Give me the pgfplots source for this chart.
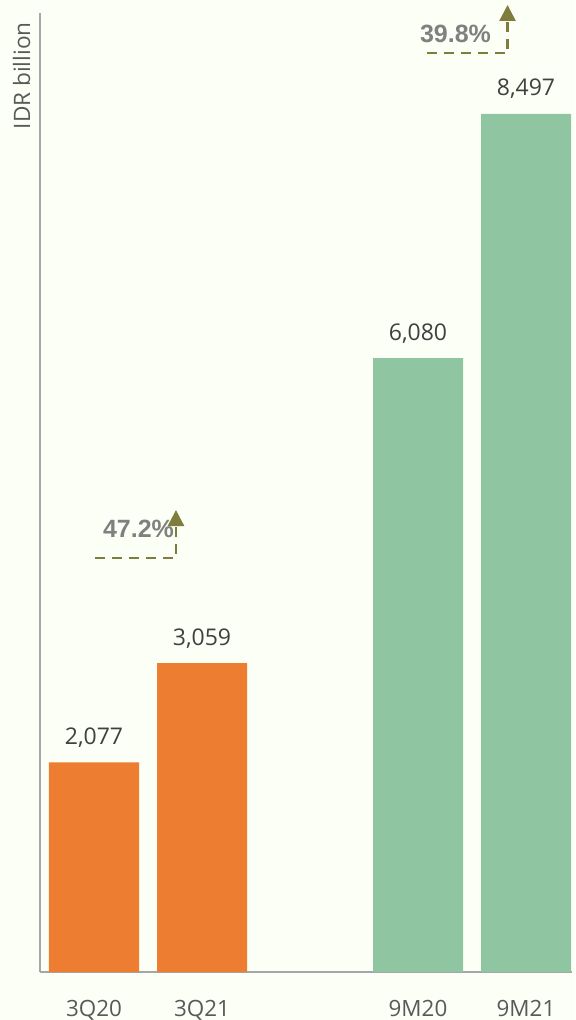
\documentclass[border=0pt]{standalone}
\usepackage{pgfplots}
\pgfplotsset{compat=1.18}
\usepackage{fontspec}
\setmainfont{Open Sans}
\newfontfamily\arialfont{Liberation Sans}
\usetikzlibrary{arrows.meta}
\definecolor{bg}{RGB}{252,255,245}
\definecolor{barorange}{RGB}{237,125,49}
\definecolor{bargreen}{RGB}{143,197,160}
\definecolor{axisgray}{RGB}{166,166,166}
\definecolor{valtext}{RGB}{64,64,64}
\definecolor{ticktext}{RGB}{89,89,89}
\definecolor{pctgray}{RGB}{128,128,128}
\definecolor{arrowolive}{RGB}{126,125,60}
\begin{document}
\begin{tikzpicture}
\fill[bg] (-20pt,-24pt) rectangle (267.5pt,486pt);
\path[use as bounding box] (-20pt,-24pt) rectangle (267.5pt,486pt);
\begin{axis}[
  at={(0,0)}, anchor=south west,
  width=266pt, height=479.5pt, scale only axis,
  xmin=-0.5, xmax=4.426, ymin=0, ymax=9497,
  axis lines*=left,
  axis line style={draw=axisgray, line width=1pt},
  ytick=\empty,
  xtick={0,1,3,4},
  xticklabels={3Q20,3Q21,9M20,9M21},
  major tick length=0pt,
  xticklabel style={anchor=base, yshift=-22pt, text=ticktext, font=\fontsize{11.2}{13}\selectfont},
  ybar, bar width=45pt, bar shift=0pt,
  nodes near coords,
  nodes near coords style={anchor=base, yshift=9pt, text=valtext, font=\fontsize{11.5}{13}\selectfont},
  /pgf/number format/.cd, fixed, 1000 sep={,}, assume math mode=true,
  /pgfplots/.cd,
  clip=false,
]
\addplot[fill=barorange, draw=none] coordinates {(0,2077) (1,3059)};
\addplot[fill=bargreen, draw=none] coordinates {(3,6080) (4,8497)};
\node[xshift=-9.2pt, yshift=-4.5pt, rotate=90, anchor=east, inner sep=0pt, text=ticktext, font=\fontsize{11.3}{13}\selectfont] at (rel axis cs:0,1) {IDR billion};
\node[anchor=base, inner sep=0pt, text=pctgray, font=\arialfont\bfseries\fontsize{12.5}{14}\selectfont] at (axis cs:0.412,4307) {47.2\%};
\node[anchor=base, inner sep=0pt, text=pctgray, font=\arialfont\bfseries\fontsize{12.5}{14}\selectfont] at (axis cs:3.347,9208) {39.8\%};
\draw[arrowolive, line width=1.25pt, dash pattern=on 5pt off 3.5pt, -{Triangle[length=8pt,width=8pt]}] (axis cs:0.009,4100) -- (axis cs:0.759,4100) -- (axis cs:0.759,4575);
\draw[arrowolive, line width=1.25pt, dash pattern=on 5pt off 3.5pt, -{Triangle[length=8pt,width=8pt]}] (axis cs:3.083,9101) -- (axis cs:3.829,9101) -- (axis cs:3.829,9576);
\end{axis}
\end{tikzpicture}
\end{document}
